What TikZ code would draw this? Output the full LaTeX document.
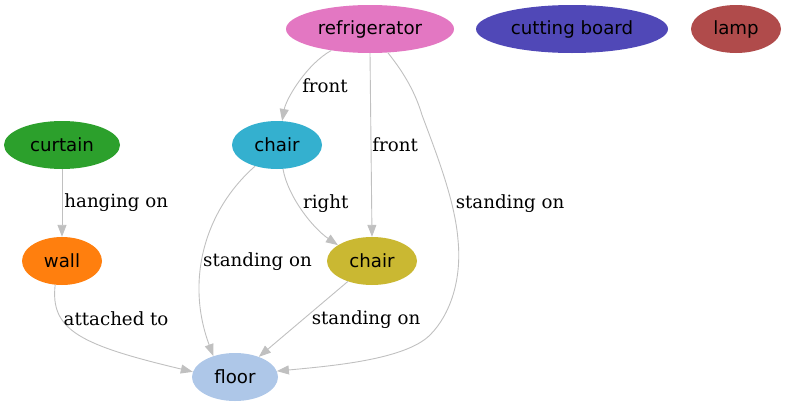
\documentclass[tikz,border=0pt]{standalone}
\usepackage{fontspec}
\usetikzlibrary{shapes.geometric,arrows.meta}
\newfontfamily\objfont{DejaVu Sans}
\newfontfamily\relfont{DejaVu Serif}
\definecolor{edgegray}{HTML}{C0C0C0}
\definecolor{fridgecol}{HTML}{E377C2}
\definecolor{boardcol}{HTML}{5048B7}
\definecolor{lampcol}{HTML}{B04B4B}
\definecolor{curtaincol}{HTML}{2CA02C}
\definecolor{chairacol}{HTML}{34B0CF}
\definecolor{wallcol}{HTML}{FF7F0E}
\definecolor{chairbcol}{HTML}{CAB832}
\definecolor{floorcol}{HTML}{AEC7E8}

\begin{document}
\begin{tikzpicture}[x=1pt, y=-1pt,
  obj/.style={ellipse, inner sep=0pt, minimum height=48pt,
    font=\objfont\fontsize{18.2}{22}\selectfont},
  rel/.style={draw=edgegray, line width=0.9pt,
    -{Triangle[length=12pt,width=9pt]}},
  lbl/.style={font=\relfont\fontsize{18.2}{22}\selectfont, inner sep=0pt, text=black}]
\useasboundingbox (0,0) rectangle (786,407);
% objects (1pt = 1px)
\node [obj, fill=fridgecol, minimum width=168pt] (fridge) at (370,29) {refrigerator};
\node [obj, fill=boardcol, minimum width=192pt] (board) at (572,29) {cutting board};
\node [obj, fill=lampcol, minimum width=90pt] (lamp) at (736,29) {lamp};
\node [obj, fill=curtaincol, minimum width=116pt] (curtain) at (62,145) {curtain};
\node [obj, fill=chairacol, minimum width=90pt] (chairA) at (277,145) {chair};
\node [obj, fill=wallcol, minimum width=80pt] (wall) at (62,261) {wall};
\node [obj, fill=chairbcol, minimum width=90pt] (chairB) at (372,261) {chair};
\node [obj, fill=floorcol, minimum width=86pt] (floor) at (235,377) {floor};

% refrigerator
\draw [rel] (fridge.209) .. controls +(-25,14) and +(4,-22) .. (chairA.78)
  node [lbl, pos=0.5, anchor=west, xshift=3pt, yshift=-3pt] {front};
\draw [rel] (fridge.south) -- (chairB.north)
  node [lbl, midway, anchor=west, xshift=1pt] {front};
\draw [rel] (fridge.307) .. controls (400,68) and (414,88) .. (422,115)
  .. controls (435,150) and (455,200) .. (458,240)
  node [lbl, pos=0.7, anchor=west, xshift=4pt, yshift=-2pt] {standing on}
  .. controls (462,280) and (450,315) .. (430,335)
  .. controls (405,360) and (330,366) .. (floor.8);

% curtain, wall
\draw [rel] (curtain) -- (wall)
  node [lbl, midway, anchor=west, xshift=2pt] {hanging on};
\draw [rel] (wall.254) .. controls (50,330) and (80,345) .. (floor.173)
  node [lbl, pos=0.3, anchor=west, xshift=2pt] {attached to};

% chairs
\draw [rel] (chairA.284) .. controls +(5,28) and +(-25,-17) .. (chairB.155)
  node [lbl, pos=0.35, anchor=west, xshift=8pt, yshift=-5pt] {right};
\draw [rel] (chairA.224) .. controls (205,210) and (185,280) .. (floor.136)
  node [lbl, pos=0.55, anchor=west, yshift=-3pt] {standing on};
\draw [rel] (chairB) -- (floor)
  node [lbl, midway, anchor=west, xshift=8pt] {standing on};
\end{tikzpicture}
\end{document}
